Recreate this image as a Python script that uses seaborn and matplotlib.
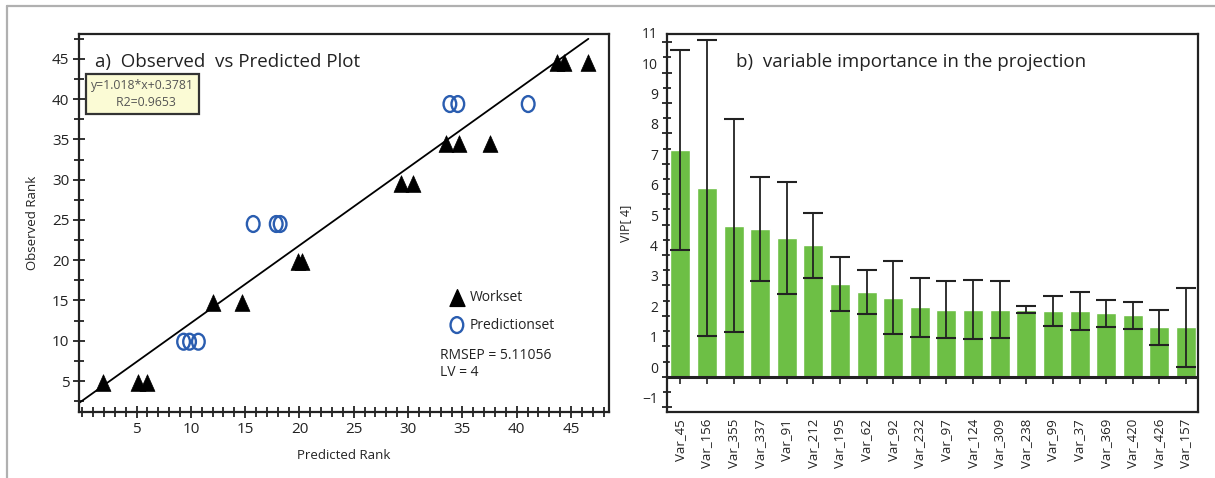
import numpy as np
import pandas as pd
import matplotlib
matplotlib.use("Agg")
import matplotlib.pyplot as plt
from matplotlib.path import Path
from matplotlib.transforms import Affine2D
from matplotlib.ticker import MultipleLocator
import seaborn as sns

# ---------------- data ----------------
work_pred = [1.94, 5.12, 5.96, 12.07, 14.75, 19.83, 20.24, 29.35, 30.44, 33.48, 34.66, 37.58, 43.7, 44.4, 46.55]
work_obs = [4.7, 4.7, 4.7, 14.65, 14.65, 19.8, 19.8, 29.43, 29.43, 34.44, 34.44, 34.44, 44.47, 44.47, 44.47]
predset_pred = [9.33, 9.88, 10.69, 15.74, 17.86, 18.22, 33.85, 34.58, 41.06]
predset_obs = [9.88, 9.88, 9.88, 24.5, 24.5, 24.5, 39.4, 39.4, 39.4]
fit_x = [-0.37, 46.6]
fit_y = [2.2, 47.5]

variables = ["Var_45", "Var_156", "Var_355", "Var_337", "Var_91", "Var_212", "Var_195", "Var_62",
             "Var_92", "Var_232", "Var_97", "Var_124", "Var_309", "Var_238", "Var_99", "Var_37",
             "Var_369", "Var_420", "Var_426", "Var_157"]
vip = [7.45, 6.2, 4.97, 4.86, 4.56, 4.33, 3.05, 2.79, 2.59, 2.29, 2.21, 2.21, 2.21, 2.21, 2.16, 2.16,
       2.09, 2.02, 1.63, 1.62]
vip_err = [3.29, 4.86, 3.49, 1.72, 1.83, 1.07, 0.9, 0.72, 1.2, 0.97, 0.93, 0.96, 0.93, 0.13, 0.5, 0.61,
           0.44, 0.45, 0.58, 1.3]

# ---------------- style ----------------
sns.set_theme(style="white")
FONT = ["Open Sans", "DejaVu Sans"]
plt.rcParams["font.family"] = FONT

W, H = 1215, 478
fig = plt.figure(figsize=(W / 100, H / 100), dpi=100)


def px_axes(l, t, r, b):
    return fig.add_axes([l / W, 1 - b / H, (r - l) / W, (b - t) / H])


# figure frame lines (light grey)
fig.add_artist(plt.Line2D([7 / W, 1.0], [1 - 6 / H, 1 - 6 / H], transform=fig.transFigure,
                          color="#b0b0b0", lw=1.6))
fig.add_artist(plt.Line2D([7 / W, 7 / W], [1 - 6 / H, 0.0], transform=fig.transFigure,
                          color="#b0b0b0", lw=1.6))

# ---------------- panel a ----------------
ax1 = px_axes(79, 34, 609, 412)
df_w = pd.DataFrame({"pred": work_pred, "obs": work_obs})
df_p = pd.DataFrame({"pred": predset_pred, "obs": predset_obs})
df_fit = pd.DataFrame({"x": fit_x, "y": fit_y})

tri = Path([(0, 1), (-0.85, -0.9), (0.85, -0.9), (0, 1)], [Path.MOVETO, Path.LINETO, Path.LINETO, Path.CLOSEPOLY])
ell = Path.unit_circle().transformed(Affine2D().scale(0.8, 1.0))

sns.lineplot(data=df_fit, x="x", y="y", ax=ax1, color="black", lw=1.3, zorder=2)
sns.scatterplot(data=df_w, x="pred", y="obs", ax=ax1, marker=tri, s=160, color="black",
                edgecolor="black", linewidth=0.5, zorder=3)
sns.scatterplot(data=df_p, x="pred", y="obs", ax=ax1, marker=ell, s=130, facecolor="none",
                edgecolor="#2a5db0", linewidth=1.7, zorder=3)

ax1.set_xlim(-0.3, 48.5)
ax1.set_ylim(1.15, 48.1)
ax1.set_xticks([5, 10, 15, 20, 25, 30, 35, 40, 45])
ax1.set_yticks([5, 10, 15, 20, 25, 30, 35, 40, 45])
ax1.xaxis.set_minor_locator(MultipleLocator(1))
ax1.yaxis.set_minor_locator(MultipleLocator(2.5))
ax1.tick_params(axis="both", which="both", direction="inout", color="#222222", width=1.3,
                bottom=True, left=True, top=False, right=False)
ax1.tick_params(axis="both", which="major", length=8, labelsize=11, pad=3, labelcolor="#222222")
ax1.tick_params(axis="both", which="minor", length=7)
for s in ax1.spines.values():
    s.set_color("#222222")
    s.set_linewidth(1.6)
ax1.set_xlabel("Predicted Rank", fontsize=9.5, labelpad=9, color="#222222")
ax1.set_ylabel("Observed Rank", fontsize=9.5, labelpad=9, color="#222222")

ax1.text(0.03, 0.925, "a)  Observed  vs Predicted Plot", transform=ax1.transAxes, fontsize=13.5,
         va="center", ha="left", color="#222222")
ax1.text(0.022, 0.842, "y=1.018*x+0.3781\n        R2=0.9653", transform=ax1.transAxes, fontsize=8.8,
         va="center", ha="left", color="#555555", linespacing=1.4,
         bbox=dict(boxstyle="square,pad=0.4", fc="#fbfbd5", ec="#333333", lw=1.6))

# legend
ax1.scatter([0.713], [0.302], transform=ax1.transAxes, marker=tri, s=160, color="black", clip_on=False)
ax1.text(0.737, 0.302, "Workset", transform=ax1.transAxes, fontsize=10, va="center", color="#222222")
ax1.scatter([0.713], [0.23], transform=ax1.transAxes, marker=ell, s=130, facecolor="none",
            edgecolor="#2a5db0", linewidth=1.7, clip_on=False)
ax1.text(0.737, 0.23, "Predictionset", transform=ax1.transAxes, fontsize=10, va="center", color="#222222")
ax1.text(0.681, 0.128, "RMSEP = 5.11056\nLV = 4", transform=ax1.transAxes, fontsize=10, va="center",
         ha="left", color="#222222", linespacing=1.2)

# ---------------- panel b ----------------
ax2 = px_axes(667, 34, 1198, 412)
df_v = pd.DataFrame({"var": variables, "vip": vip, "err": vip_err})
sns.barplot(data=df_v, x="var", y="vip", ax=ax2, color="#6dbf45", saturation=1, width=0.75, zorder=2)
ax2.errorbar(np.arange(len(variables)), df_v["vip"], yerr=df_v["err"], fmt="none", ecolor="#222222",
             elinewidth=1.3, capsize=7.2, capthick=1.5, zorder=3)

ylo, yhi = -1.16, 11.27
ax2.set_ylim(ylo, yhi)
ax2.set_xlim(-0.5, 19.45)
ax2.axhline(0, color="#222222", lw=2.2, zorder=4)
ax2.set_yticks(range(-1, 12))
ax2.yaxis.set_minor_locator(MultipleLocator(0.5))
ax2.tick_params(axis="y", which="both", direction="inout", color="#222222", width=1.3, left=True)
ax2.tick_params(axis="y", which="major", length=7, labelsize=10, pad=3, labelcolor="#222222")
ax2.tick_params(axis="y", which="minor", length=6)
for lab in ax2.get_yticklabels():
    lab.set_verticalalignment("bottom")
ax2.tick_params(axis="x", which="both", length=0, labelsize=9.5, labelrotation=90, pad=5,
                labelcolor="#222222")
for s in ax2.spines.values():
    s.set_color("#222222")
    s.set_linewidth(1.6)
ax2.set_xlabel("")
ax2.set_ylabel("VIP[ 4]", fontsize=9, labelpad=7, color="#222222")

zero_frac = (0 - ylo) / (yhi - ylo)
sec = ax2.secondary_xaxis(zero_frac)
sec.set_xticks(np.arange(len(variables)))
sec.set_xticklabels([])
sec.tick_params(axis="x", direction="out", length=5, width=1.2, color="#222222")
sec.spines["bottom"].set_visible(False)

ax2.text(0.13, 0.925, "b)  variable importance in the projection", transform=ax2.transAxes,
         fontsize=13.5, va="center", ha="left", color="#222222")

fig.savefig("out.png", dpi=100)
